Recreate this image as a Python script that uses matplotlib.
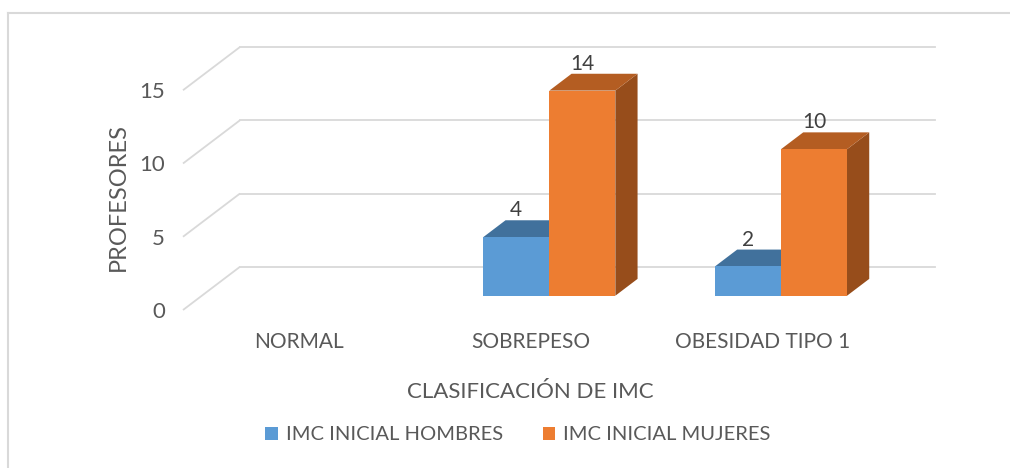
import matplotlib.pyplot as plt
from matplotlib.patches import Polygon
from matplotlib.lines import Line2D

categories = ['NORMAL', 'SOBREPESO', 'OBESIDAD TIPO 1']
hombres = [0, 4, 2]
mujeres = [0, 14, 10]
series_names = ['IMC INICIAL HOMBRES', 'IMC INICIAL MUJERES']
yticks = [0, 5, 10, 15]

plt.rcParams['font.family'] = ['Lato', 'DejaVu Sans']

# colours: front, top, side
blue = ('#5b9bd5', '#41719c', '#41719c')
orange = ('#ed7d31', '#b45d22', '#974d1b')
grid_c = '#d9d9d9'
text_c = '#595959'

# oblique "depth" of the 3D box in data units
DX, DY = 0.246, 2.95
d0, d1 = 0.33, 0.72   # bar front / back depth
bw = 0.285
ymax = 15

W, H = 1010, 468
fig = plt.figure(figsize=(W / 100, H / 100), dpi=100)
ax = fig.add_axes([183 / W, (H - 310) / H, (935 - 183) / W, 263 / H])
ax.set_xlim(0, 3 + DX)
ax.set_ylim(0, ymax + DY)
for s in ax.spines.values():
    s.set_visible(False)

# walls
for v in yticks:
    ax.plot([0, DX], [v, v + DY], color=grid_c, lw=1.3, solid_capstyle='butt', clip_on=False)
    ax.plot([DX, 3 + DX], [v + DY, v + DY], color=grid_c, lw=1.3, clip_on=False)


def bar3d(x0, v, cols, zorder):
    if v <= 0:
        return
    fx, fy = d0 * DX, d0 * DY
    bx, by = d1 * DX, d1 * DY
    front = [(x0 + fx, fy), (x0 + bw + fx, fy), (x0 + bw + fx, v + fy), (x0 + fx, v + fy)]
    top = [(x0 + fx, v + fy), (x0 + bw + fx, v + fy), (x0 + bw + bx, v + by), (x0 + bx, v + by)]
    side = [(x0 + bw + fx, fy), (x0 + bw + bx, by), (x0 + bw + bx, v + by), (x0 + bw + fx, v + fy)]
    ax.add_patch(Polygon(side, closed=True, fc=cols[2], ec='none', zorder=zorder, clip_on=False))
    ax.add_patch(Polygon(top, closed=True, fc=cols[1], ec='none', zorder=zorder, clip_on=False))
    ax.add_patch(Polygon(front, closed=True, fc=cols[0], ec='none', zorder=zorder + 0.5, clip_on=False))
    ax.text(x0 + bw / 2 + fx, v + by, str(v), ha='center', va='bottom',
            fontsize=15, color='#404040', zorder=10)


for i in range(len(categories)):
    c = i + 0.5
    bar3d(c - bw, hombres[i], blue, 3)
    bar3d(c, mujeres[i], orange, 4)

ax.set_yticks(yticks)
ax.set_yticklabels([str(t) for t in yticks], fontsize=16, color=text_c)
ax.set_xticks([i + 0.5 for i in range(len(categories))])
ax.set_xticklabels(categories, fontsize=15, color=text_c)
ax.tick_params(axis='y', length=0, pad=13)
ax.tick_params(axis='x', length=0, pad=16)
ax.set_ylabel('PROFESORES', fontsize=17, color=text_c)
ax.set_xlabel('CLASIFICACIÓN DE IMC', fontsize=16, color=text_c)
# centre the axis titles on the front plane of the box
ax.yaxis.set_label_coords(-0.072, 0.43)
ax.xaxis.set_label_coords(1.5 / (3 + DX), -0.275)

handles = [plt.Rectangle((0, 0), 1, 1, fc=blue[0]), plt.Rectangle((0, 0), 1, 1, fc=orange[0])]
fig.legend(handles, series_names, loc='center', bbox_to_anchor=(518 / W, 1 - 435 / H),
           ncol=2, frameon=False, fontsize=14.5, handlelength=0.6, handleheight=0.6,
           handletextpad=0.4, columnspacing=2.0, labelcolor=text_c)

# chart border (top and left only visible)
fig.add_artist(Line2D([8 / W, 1], [1 - 13 / H, 1 - 13 / H], color='#d9d9d9', lw=1.5))
fig.add_artist(Line2D([8 / W, 8 / W], [0, 1 - 13 / H], color='#d9d9d9', lw=1.5))

fig.savefig('out.png', dpi=100)
